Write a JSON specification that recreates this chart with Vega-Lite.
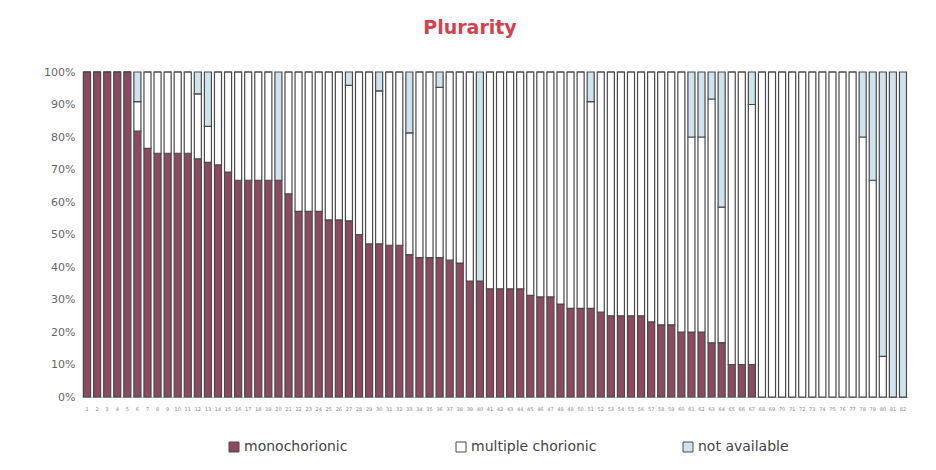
{
  "$schema": "https://vega.github.io/schema/vega-lite/v6.json",
  "width": 826,
  "height": 325,
  "autosize": "none",
  "padding": {"left": 82, "top": 72, "right": 28, "bottom": 73},
  "background": "white",
  "title": {
    "text": "Plurarity",
    "font": "DejaVu Sans",
    "fontSize": 19,
    "fontWeight": "bold",
    "color": "#D5404F",
    "anchor": "middle",
    "baseline": "alphabetic",
    "offset": 13,
    "dx": -25
  },
  "data": {
    "values": [
      {"n": 1, "monochorionic": 100, "multiple chorionic": 0, "not available": 0},
      {"n": 2, "monochorionic": 100, "multiple chorionic": 0, "not available": 0},
      {"n": 3, "monochorionic": 100, "multiple chorionic": 0, "not available": 0},
      {"n": 4, "monochorionic": 100, "multiple chorionic": 0, "not available": 0},
      {"n": 5, "monochorionic": 100, "multiple chorionic": 0, "not available": 0},
      {"n": 6, "monochorionic": 81.8, "multiple chorionic": 9.1, "not available": 9.1},
      {"n": 7, "monochorionic": 76.5, "multiple chorionic": 23.5, "not available": 0},
      {"n": 8, "monochorionic": 75, "multiple chorionic": 25, "not available": 0},
      {"n": 9, "monochorionic": 75, "multiple chorionic": 25, "not available": 0},
      {"n": 10, "monochorionic": 75, "multiple chorionic": 25, "not available": 0},
      {"n": 11, "monochorionic": 75, "multiple chorionic": 25, "not available": 0},
      {"n": 12, "monochorionic": 73.3, "multiple chorionic": 20, "not available": 6.7},
      {"n": 13, "monochorionic": 72.2, "multiple chorionic": 11.1, "not available": 16.7},
      {"n": 14, "monochorionic": 71.4, "multiple chorionic": 28.6, "not available": 0},
      {"n": 15, "monochorionic": 69.2, "multiple chorionic": 30.8, "not available": 0},
      {"n": 16, "monochorionic": 66.7, "multiple chorionic": 33.3, "not available": 0},
      {"n": 17, "monochorionic": 66.7, "multiple chorionic": 33.3, "not available": 0},
      {"n": 18, "monochorionic": 66.7, "multiple chorionic": 33.3, "not available": 0},
      {"n": 19, "monochorionic": 66.7, "multiple chorionic": 33.3, "not available": 0},
      {"n": 20, "monochorionic": 66.7, "multiple chorionic": 0, "not available": 33.3},
      {"n": 21, "monochorionic": 62.5, "multiple chorionic": 37.5, "not available": 0},
      {"n": 22, "monochorionic": 57.1, "multiple chorionic": 42.9, "not available": 0},
      {"n": 23, "monochorionic": 57.1, "multiple chorionic": 42.9, "not available": 0},
      {"n": 24, "monochorionic": 57.1, "multiple chorionic": 42.9, "not available": 0},
      {"n": 25, "monochorionic": 54.5, "multiple chorionic": 45.5, "not available": 0},
      {"n": 26, "monochorionic": 54.5, "multiple chorionic": 45.5, "not available": 0},
      {"n": 27, "monochorionic": 54.2, "multiple chorionic": 41.7, "not available": 4.1},
      {"n": 28, "monochorionic": 50, "multiple chorionic": 50, "not available": 0},
      {"n": 29, "monochorionic": 47.1, "multiple chorionic": 52.9, "not available": 0},
      {"n": 30, "monochorionic": 47.1, "multiple chorionic": 47.1, "not available": 5.8},
      {"n": 31, "monochorionic": 46.7, "multiple chorionic": 53.3, "not available": 0},
      {"n": 32, "monochorionic": 46.7, "multiple chorionic": 53.3, "not available": 0},
      {"n": 33, "monochorionic": 43.8, "multiple chorionic": 37.5, "not available": 18.7},
      {"n": 34, "monochorionic": 42.9, "multiple chorionic": 57.1, "not available": 0},
      {"n": 35, "monochorionic": 42.9, "multiple chorionic": 57.1, "not available": 0},
      {"n": 36, "monochorionic": 42.9, "multiple chorionic": 52.4, "not available": 4.7},
      {"n": 37, "monochorionic": 42.1, "multiple chorionic": 57.9, "not available": 0},
      {"n": 38, "monochorionic": 41.2, "multiple chorionic": 58.8, "not available": 0},
      {"n": 39, "monochorionic": 35.7, "multiple chorionic": 64.3, "not available": 0},
      {"n": 40, "monochorionic": 35.7, "multiple chorionic": 0, "not available": 64.3},
      {"n": 41, "monochorionic": 33.3, "multiple chorionic": 66.7, "not available": 0},
      {"n": 42, "monochorionic": 33.3, "multiple chorionic": 66.7, "not available": 0},
      {"n": 43, "monochorionic": 33.3, "multiple chorionic": 66.7, "not available": 0},
      {"n": 44, "monochorionic": 33.3, "multiple chorionic": 66.7, "not available": 0},
      {"n": 45, "monochorionic": 31.3, "multiple chorionic": 68.7, "not available": 0},
      {"n": 46, "monochorionic": 30.8, "multiple chorionic": 69.2, "not available": 0},
      {"n": 47, "monochorionic": 30.8, "multiple chorionic": 69.2, "not available": 0},
      {"n": 48, "monochorionic": 28.6, "multiple chorionic": 71.4, "not available": 0},
      {"n": 49, "monochorionic": 27.3, "multiple chorionic": 72.7, "not available": 0},
      {"n": 50, "monochorionic": 27.3, "multiple chorionic": 72.7, "not available": 0},
      {"n": 51, "monochorionic": 27.3, "multiple chorionic": 63.6, "not available": 9.1},
      {"n": 52, "monochorionic": 26.1, "multiple chorionic": 73.9, "not available": 0},
      {"n": 53, "monochorionic": 25, "multiple chorionic": 75, "not available": 0},
      {"n": 54, "monochorionic": 25, "multiple chorionic": 75, "not available": 0},
      {"n": 55, "monochorionic": 25, "multiple chorionic": 75, "not available": 0},
      {"n": 56, "monochorionic": 25, "multiple chorionic": 75, "not available": 0},
      {"n": 57, "monochorionic": 23.1, "multiple chorionic": 76.9, "not available": 0},
      {"n": 58, "monochorionic": 22.2, "multiple chorionic": 77.8, "not available": 0},
      {"n": 59, "monochorionic": 22.2, "multiple chorionic": 77.8, "not available": 0},
      {"n": 60, "monochorionic": 20, "multiple chorionic": 80, "not available": 0},
      {"n": 61, "monochorionic": 20, "multiple chorionic": 60, "not available": 20},
      {"n": 62, "monochorionic": 20, "multiple chorionic": 60, "not available": 20},
      {"n": 63, "monochorionic": 16.7, "multiple chorionic": 75, "not available": 8.3},
      {"n": 64, "monochorionic": 16.7, "multiple chorionic": 41.7, "not available": 41.6},
      {"n": 65, "monochorionic": 10, "multiple chorionic": 90, "not available": 0},
      {"n": 66, "monochorionic": 10, "multiple chorionic": 90, "not available": 0},
      {"n": 67, "monochorionic": 10, "multiple chorionic": 80, "not available": 10},
      {"n": 68, "monochorionic": 0, "multiple chorionic": 100, "not available": 0},
      {"n": 69, "monochorionic": 0, "multiple chorionic": 100, "not available": 0},
      {"n": 70, "monochorionic": 0, "multiple chorionic": 100, "not available": 0},
      {"n": 71, "monochorionic": 0, "multiple chorionic": 100, "not available": 0},
      {"n": 72, "monochorionic": 0, "multiple chorionic": 100, "not available": 0},
      {"n": 73, "monochorionic": 0, "multiple chorionic": 100, "not available": 0},
      {"n": 74, "monochorionic": 0, "multiple chorionic": 100, "not available": 0},
      {"n": 75, "monochorionic": 0, "multiple chorionic": 100, "not available": 0},
      {"n": 76, "monochorionic": 0, "multiple chorionic": 100, "not available": 0},
      {"n": 77, "monochorionic": 0, "multiple chorionic": 100, "not available": 0},
      {"n": 78, "monochorionic": 0, "multiple chorionic": 80, "not available": 20},
      {"n": 79, "monochorionic": 0, "multiple chorionic": 66.7, "not available": 33.3},
      {"n": 80, "monochorionic": 0, "multiple chorionic": 12.5, "not available": 87.5},
      {"n": 81, "monochorionic": 0, "multiple chorionic": 0, "not available": 100},
      {"n": 82, "monochorionic": 0, "multiple chorionic": 0, "not available": 100}
    ]
  },
  "transform": [
    {"fold": ["monochorionic", "multiple chorionic", "not available"], "as": ["type", "pct"]}
  ],
  "mark": {"type": "bar", "stroke": "#4a4a4a", "strokeWidth": 1.2},
  "encoding": {
    "x": {
      "field": "n",
      "type": "ordinal",
      "sort": "ascending",
      "title": null,
      "scale": {"paddingInner": 0.3, "paddingOuter": 0.15},
      "axis": {
        "labelAngle": 0,
        "labelFont": "DejaVu Sans",
        "labelFontSize": 5,
        "labelColor": "#888888",
        "labelPadding": 9,
        "ticks": false,
        "domainColor": "#bbbbbb"
      }
    },
    "y": {
      "field": "pct",
      "type": "quantitative",
      "stack": "zero",
      "title": null,
      "scale": {"domain": [0, 100], "nice": false},
      "axis": {
        "values": [0, 10, 20, 30, 40, 50, 60, 70, 80, 90, 100],
        "labelExpr": "datum.value + '%'",
        "labelFont": "DejaVu Sans",
        "labelFontSize": 11,
        "labelColor": "#666666",
        "labelPadding": 7,
        "ticks": false,
        "grid": false,
        "domainColor": "#bbbbbb",
        "domainDash": [1, 1]
      }
    },
    "order": {"field": "type", "sort": "ascending"},
    "color": {
      "field": "type",
      "type": "nominal",
      "scale": {
        "domain": ["monochorionic", "multiple chorionic", "not available"],
        "range": ["#8C4960", "#FFFFFF", "#CFE3EF"]
      },
      "legend": {
        "title": null,
        "orient": "none",
        "direction": "horizontal",
        "legendX": 145,
        "legendY": 368,
        "symbolType": "square",
        "symbolSize": 100,
        "symbolStrokeColor": "#4a4a4a",
        "symbolStrokeWidth": 1,
        "symbolOpacity": 1,
        "labelFont": "DejaVu Sans",
        "labelFontSize": 14,
        "labelColor": "#444444",
        "labelOffset": 3,
        "gridAlign": "all",
        "columnPadding": 84
      }
    }
  },
  "config": {
    "view": {"stroke": null}
  }
}
